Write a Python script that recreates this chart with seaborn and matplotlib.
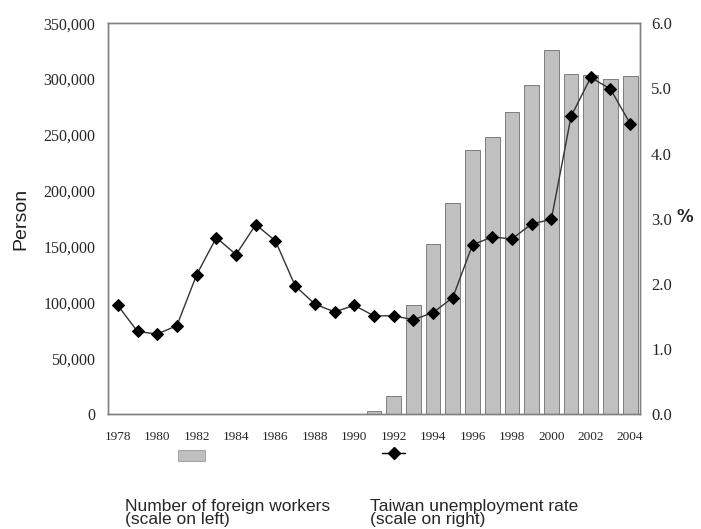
import numpy as np
import pandas as pd
import matplotlib
matplotlib.use("Agg")
import matplotlib.pyplot as plt
import seaborn as sns
from matplotlib.patches import Rectangle
from matplotlib.lines import Line2D

# Data
years = list(range(1978, 2005))
foreign_workers = [
    0, 0, 0, 0, 0, 0, 0, 0, 0, 0, 0, 0, 0,
    3000, 15900, 97600, 152000, 189100, 236600, 248400,
    270600, 295000, 326500, 304600, 303700, 300200, 302900,
]
unemployment = [
    1.67, 1.27, 1.23, 1.36, 2.14, 2.71, 2.45, 2.91, 2.66, 1.97,
    1.69, 1.57, 1.67, 1.51, 1.51, 1.45, 1.56, 1.79, 2.60, 2.72,
    2.69, 2.92, 2.99, 4.57, 5.17, 4.99, 4.46,
]
left_ticks = [0, 50000, 100000, 150000, 200000, 250000, 300000, 350000]
right_ticks = [0.0, 1.0, 2.0, 3.0, 4.0, 5.0, 6.0]

df = pd.DataFrame({"Year": [str(y) for y in years],
                   "Workers": foreign_workers,
                   "Rate": unemployment})

sns.set_style("white")
plt.rcParams["font.family"] = ["Liberation Serif", "DejaVu Serif"]

fig = plt.figure(figsize=(7.01, 5.29), dpi=100)
ax = fig.add_axes([0.154, 0.217, 0.759, 0.739])

sns.barplot(data=df, x="Year", y="Workers", color="#c0c0c0", width=0.75,
            edgecolor="#6e6e6e", linewidth=0.6, saturation=1, ax=ax)

ax2 = ax.twinx()
sns.pointplot(data=df, x="Year", y="Rate", color="black", markers="D",
              linestyles="-", linewidth=1.0, markersize=6.5, ax=ax2)
for ln in ax2.lines:
    ln.set_color("#333333")
    ln.set_markerfacecolor("black")
    ln.set_markeredgecolor("black")

n = len(years)
ax.set_xlim(-0.5, n - 0.5)
ax2.set_xlim(-0.5, n - 0.5)
ax.set_ylim(0, 350000)
ax2.set_ylim(0, 6)

ax.set_xticks(range(0, n, 2))
ax.set_xticklabels([str(y) for y in years[::2]], fontsize=9.5)
ax.set_xticks(np.arange(-0.5, n, 1), minor=True)
ax.tick_params(axis="x", which="major", length=0, pad=12)
ax.tick_params(axis="x", which="minor", length=4, direction="in", color="#808080")

ax.set_yticks(left_ticks)
ax.set_yticklabels([f"{v:,}" for v in left_ticks], fontsize=11.5)
ax.tick_params(axis="y", length=0, pad=9)
ax2.set_yticks(right_ticks)
ax2.set_yticklabels([f"{v:.1f}" for v in right_ticks], fontsize=12)
ax2.tick_params(axis="y", length=0, pad=8)

ax.set_xlabel("")
ax2.set_xlabel("")
ax.set_ylabel("Person", fontsize=14, family="Liberation Sans", labelpad=10, color="#222222")
ax2.set_ylabel("")
fig.text(0.977, 0.59, "%", fontsize=12, family="DejaVu Sans", fontweight="bold",
         ha="center", va="center")

for a in (ax, ax2):
    for s in a.spines.values():
        s.set_visible(True)
        s.set_color("#808080")
        s.set_linewidth(1.0)
    a.grid(False)

# legend laid out with key above label, as in the reference
fig.add_artist(Rectangle((178 / 701, 1 - 461 / 529), 27 / 701, 11 / 529,
                         transform=fig.transFigure, facecolor="#c0c0c0",
                         edgecolor="#999999", linewidth=0.6))
fig.add_artist(Line2D([382 / 701, 405 / 701], [1 - 453 / 529, 1 - 453 / 529],
                      transform=fig.transFigure, color="black", linewidth=1.0))
fig.add_artist(Line2D([393.5 / 701], [1 - 453 / 529], transform=fig.transFigure,
                      color="black", marker="D", markersize=6, linestyle="none"))
fig.text(125 / 701, 1 - 499 / 529, "Number of foreign workers\n(scale on left)",
         fontsize=12.5, family="Liberation Sans", va="top", ha="left", linespacing=0.82)
fig.text(370 / 701, 1 - 499 / 529, "Taiwan unemployment rate\n(scale on right)",
         fontsize=12.5, family="Liberation Sans", va="top", ha="left", linespacing=0.82)

fig.savefig("out.png", dpi=100)
